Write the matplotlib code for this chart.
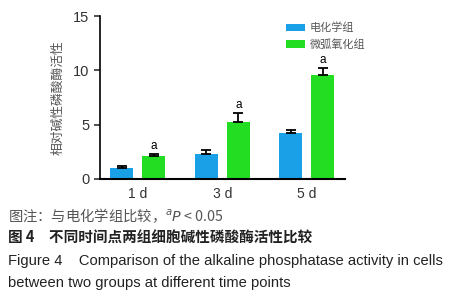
import numpy as np
import matplotlib
matplotlib.use("Agg")
import matplotlib.pyplot as plt

# data
days = ["1 d", "3 d", "5 d"]
groups = ["电化学组", "微弧氧化组"]
echem = [1.05, 2.27, 4.23]
echem_err = [0.17, 0.37, 0.31]
mao = [2.10, 5.20, 9.54]
mao_err = [0.23, 0.90, 0.64]
sig = ["a", "a", "a"]

blue = "#1aa0e6"
green = "#22dd22"

plt.rcParams["font.family"] = ["Liberation Sans", "Noto Sans CJK SC"]

fig = plt.figure(figsize=(4.58, 3.0), dpi=100)
ax = fig.add_axes([100 / 458, 1 - 179 / 300, 245 / 458, 163 / 300])

x = np.arange(len(days))
w = 0.272
off = 0.192

ax.bar(x - off, echem, w, color=blue, label=groups[0])
ax.bar(x + off, mao, w, color=green, label=groups[1])
ax.errorbar(x - off, echem, yerr=[np.zeros(3), echem_err], fmt="none",
            ecolor="black", elinewidth=1.3, capsize=3.5, capthick=1.3)
ax.errorbar(x + off, mao, yerr=[np.zeros(3), mao_err], fmt="none",
            ecolor="black", elinewidth=1.3, capsize=3.5, capthick=1.3)

# significance letters
for xi, v, e, s in zip(x + off, mao, mao_err, sig):
    ax.text(xi, v + e + 0.2, s, ha="center", va="bottom", fontsize=8.5)

ax.set_xlim(-0.447, 2.453)
ax.set_ylim(0, 15)
ax.set_yticks([0, 5, 10, 15])
ax.set_xticks(x)
ax.set_xticklabels(days, fontsize=10)
ax.tick_params(axis="y", labelsize=10.5, length=4, width=1.2, colors="#333333")
ax.tick_params(axis="x", length=0, pad=6, colors="#333333")
for side in ["top", "right"]:
    ax.spines[side].set_visible(False)
ax.spines["left"].set_linewidth(1.2)
ax.spines["bottom"].set_linewidth(1.5)

ax.set_ylabel("相对碱性磷酸酶活性", fontsize=9.2, color="#555555",
              family=["Noto Sans CJK SC"], labelpad=6)

leg = ax.legend(loc="upper left", bbox_to_anchor=(0.72, 1.02), frameon=False,
                handlelength=1.7, handleheight=0.7,
                handletextpad=0.4, labelspacing=0.5,
                prop={"family": ["Noto Sans CJK SC"], "size": 8})
for t in leg.get_texts():
    t.set_color("#555555")

# captions under the chart
fig.text(8 / 458, 1 - 216 / 300, "图注：与电化学组比较，$^{a}$$\\it{P}$ < 0.05",
         fontsize=10.3, color="#555555", va="center",
         family=["Noto Sans CJK SC", "Liberation Sans"])
fig.text(8 / 458, 1 - 238 / 300, "图 4　不同时间点两组细胞碱性磷酸酶活性比较",
         fontsize=10.5, color="#222222", va="center", weight="bold",
         family=["Noto Sans CJK SC"])
fig.text(8 / 458, 1 - 261 / 300,
         "Figure 4    Comparison of the alkaline phosphatase activity in cells",
         fontsize=10.6, color="#222222", va="center")
fig.text(8 / 458, 1 - 283 / 300,
         "between two groups at different time points",
         fontsize=10.6, color="#222222", va="center")

fig.savefig("out.png", dpi=100)
